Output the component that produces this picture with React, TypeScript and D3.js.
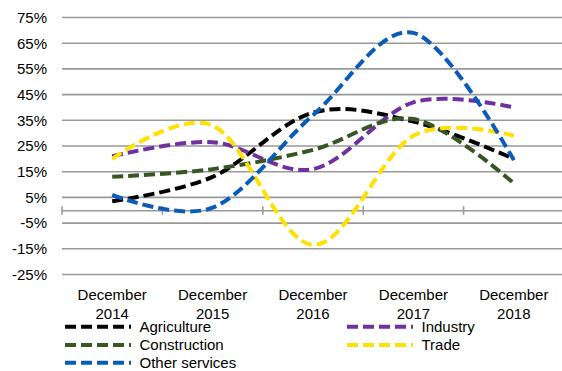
import React from "react";
import * as d3 from "d3";

const categories = ["December 2014", "December 2015", "December 2016", "December 2017", "December 2018"];
const yTicks = [-25, -15, -5, 5, 15, 25, 35, 45, 55, 65, 75];

const agriculture = [3.5, 13, 38, 34.5, 20];
const industry = [21, 26.5, 16, 42, 40];
const construction = [13, 16, 23.5, 35.5, 10.5];
const trade = [20, 33, -13.5, 29, 29];
const otherServices = [6, 1, 37, 69, 19.5];

const seriesNames = ["Agriculture", "Industry", "Construction", "Trade", "Other services"];
const seriesColors = ["#000000", "#7030a0", "#375623", "#ffe000", "#0a5cb8"];

const W = 562;
const H = 371;
const FONT = "'Liberation Sans', Arial, sans-serif";

export default function App() {
  const seriesValues = [agriculture, industry, construction, trade, otherServices];
  const x = d3.scaleBand<string>().domain(categories).range([62, 564]);
  const y = d3.scaleLinear().domain([-25, 75]).range([274.5, 17.5]);
  const line = d3
    .line<number>()
    .x((_, i) => (x(categories[i]) as number) + x.bandwidth() / 2)
    .y((d) => y(d))
    .curve(d3.curveCardinal.tension(0));

  const tickXs = categories.map((c) => x(c) as number);
  const legendPos = [
    { x: 65, y: 326.7 },
    { x: 347, y: 326.7 },
    { x: 65, y: 345 },
    { x: 347, y: 345 },
    { x: 65, y: 362.7 },
  ];

  return (
    <svg
      width={W}
      height={H}
      style={{ position: "absolute", left: 0, top: 0, background: "#fff" }}
      fontFamily={FONT}
    >
      {yTicks.map((t) => (
        <g key={t}>
          <line x1={62} x2={W} y1={y(t)} y2={y(t)} stroke="#999" strokeWidth={1.6} />
          <text x={47} y={y(t) + 5.3} textAnchor="end" fontSize={15} fill="#000">
            {t}%
          </text>
        </g>
      ))}
      <line x1={62} x2={W} y1={y(0) + 0.5} y2={y(0) + 0.5} stroke="#999" strokeWidth={1.6} />
      {tickXs.map((tx, i) => (
        <line key={i} x1={tx} x2={tx} y1={y(0) - 4} y2={y(0) + 4.5} stroke="#999" strokeWidth={1.6} />
      ))}
      {categories.map((c) => {
        const [m, yr] = c.split(" ");
        const cx = (x(c) as number) + x.bandwidth() / 2;
        return (
          <g key={c}>
            <text x={cx} y={299.5} textAnchor="middle" fontSize={15} fill="#000">
              {m}
            </text>
            <text x={cx} y={318.6} textAnchor="middle" fontSize={15} fill="#000">
              {yr}
            </text>
          </g>
        );
      })}
      {seriesValues.map((vals, i) => (
        <path
          key={seriesNames[i]}
          d={line(vals) || ""}
          fill="none"
          stroke={seriesColors[i]}
          strokeWidth={4}
          strokeDasharray="11,5"
        />
      ))}
      {seriesNames.map((n, i) => (
        <g key={n}>
          <line
            x1={legendPos[i].x}
            x2={legendPos[i].x + 66}
            y1={legendPos[i].y}
            y2={legendPos[i].y}
            stroke={seriesColors[i]}
            strokeWidth={4}
            strokeDasharray="11,5"
          />
          <text x={legendPos[i].x + 74.5} y={legendPos[i].y + 5.3} fontSize={15} fill="#000">
            {n}
          </text>
        </g>
      ))}
    </svg>
  );
}
